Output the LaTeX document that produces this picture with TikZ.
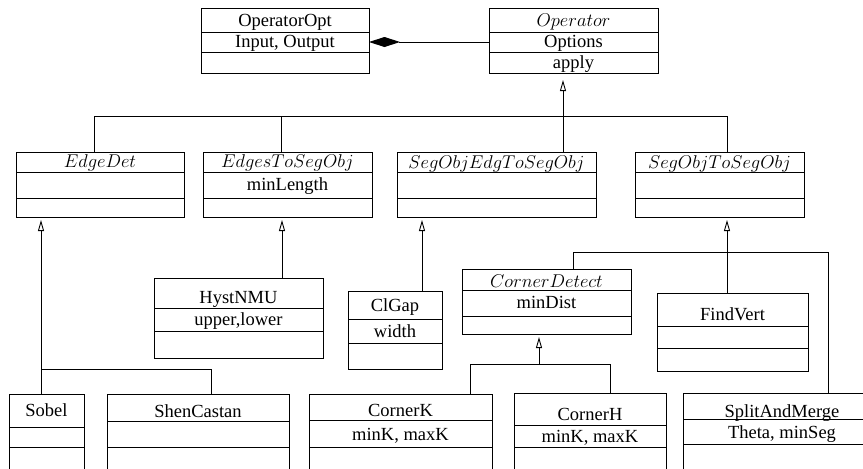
\RequirePackage{fix-cm}
\documentclass[tikz,border=0pt]{standalone}
\usepackage{fontspec}
\setmainfont{Liberation Serif}
\usetikzlibrary{arrows.meta}
\tikzset{every picture/.style={line width=0.9pt}}

\begin{document}
\begin{tikzpicture}[x=1pt,y=-1pt,
  font=\fontsize{18.5}{20}\selectfont,
  cls/.style={draw, rectangle, anchor=north west, inner sep=0pt, outer sep=0pt},
  txt/.style={anchor=base, inner sep=0pt},
  gen/.style={-{Triangle[open,length=11pt,width=6pt]}, shorten >=3pt},
  owns/.style={-{Diamond[length=31pt,width=10pt]}}]
\useasboundingbox (0,0) rectangle (863,469);
\clip (0,0) rectangle (863,469);
% class boxes
\node[cls, minimum width=168pt, minimum height=65pt] (operatoropt) at (201,8) {};
\node[cls, minimum width=169pt, minimum height=65pt] (operator) at (489,8) {};
\node[cls, minimum width=168pt, minimum height=65pt] (edgedet) at (16,152) {};
\node[cls, minimum width=169pt, minimum height=65pt] (edgesseg) at (203,152) {};
\node[cls, minimum width=199pt, minimum height=65pt] (segedgseg) at (397,152) {};
\node[cls, minimum width=169pt, minimum height=65pt] (segsegobj) at (635,152) {};
\node[cls, minimum width=169pt, minimum height=80pt] (hystnmu) at (154,278) {};
\node[cls, minimum width=94pt, minimum height=78pt] (clgap) at (348,291) {};
\node[cls, minimum width=169pt, minimum height=65pt] (cornerdet) at (462,269) {};
\node[cls, minimum width=151pt, minimum height=78pt] (findvert) at (657,293) {};
\node[cls, minimum width=75pt, minimum height=110pt] (sobel) at (9,394) {};
\node[cls, minimum width=182pt, minimum height=110pt] (shencastan) at (107,394) {};
\node[cls, minimum width=183pt, minimum height=110pt] (cornerk) at (309,394) {};
\node[cls, minimum width=152pt, minimum height=110pt] (cornerh) at (514,393) {};
\node[cls, minimum width=198pt, minimum height=110pt] (splitmerge) at (683,393) {};
% compartments
\foreach \n/\a/\b in {operatoropt/32/52, operator/32/52, edgedet/172/198,
    edgesseg/172/198, segedgseg/172/198, segsegobj/172/198, hystnmu/308/331,
    clgap/319/343, cornerdet/290/316, findvert/326/348, sobel/427/447,
    shencastan/421/447, cornerk/420/447, cornerh/425/447, splitmerge/419/444}
  \draw (\n.west |- 0,\a) -- (\n.east |- 0,\a) (\n.west |- 0,\b) -- (\n.east |- 0,\b);
% names and attributes
\node[txt] (operatoropt-t) at (operatoropt.north |- 0,26) {OperatorOpt};
\node[txt] (operatoropt-a) at (operatoropt.north |- 0,47) {Input, Output};
\node[txt] (operator-t) at (operator.north |- 0,26) {$Operator$};
\node[txt] (operator-a) at (operator.north |- 0,47) {Options};
\node[txt] (operator-o) at (operator.north |- 0,68) {apply};
\node[txt] (edgedet-t) at (edgedet.north |- 0,167) {$EdgeDet$};
\node[txt] (edgesseg-t) at (edgesseg.north |- 0,167) {$EdgesToSegObj$};
\node[txt] (edgesseg-a) at (edgesseg.north |- 0,190) {minLength};
\node[txt] (segedgseg-t) at (segedgseg.north |- 0,168) {$SegObjEdgToSegObj$};
\node[txt] (segsegobj-t) at (segsegobj.north |- 0,168) {$SegObjToSegObj$};
\node[txt] (hystnmu-t) at (hystnmu.north |- 0,303) {HystNMU};
\node[txt] (hystnmu-a) at (hystnmu.north |- 0,325) {upper,lower};
\node[txt] (clgap-t) at (clgap.north |- 0,311) {ClGap};
\node[txt] (clgap-a) at (clgap.north |- 0,337) {width};
\node[txt] (cornerdet-t) at (cornerdet.north |- 0,287) {$CornerDetect$};
\node[txt] (cornerdet-a) at (cornerdet.north |- 0,308) {minDist};
\node[txt] (findvert-t) at (findvert.north |- 0,320) {FindVert};
\node[txt] (sobel-t) at (sobel.north |- 0,416) {Sobel};
\node[txt] (shencastan-t) at (shencastan.north |- 0,417) {ShenCastan};
\node[txt] (cornerk-t) at (cornerk.north |- 0,416) {CornerK};
\node[txt] (cornerk-a) at (cornerk.north |- 0,440) {minK, maxK};
\node[txt] (cornerh-t) at (cornerh.north |- 0,420) {CornerH};
\node[txt] (cornerh-a) at (cornerh.north |- 0,442) {minK, maxK};
\node[txt] (splitmerge-t) at (splitmerge.north |- 0,417) {SplitAndMerge};
\node[txt] (splitmerge-a) at (splitmerge.north |- 0,438) {Theta, minSeg};
% composition
\coordinate (ownY) at (0,42);
\draw[owns] (operator.west |- ownY) -- (operatoropt.east |- ownY);
% inheritance
\coordinate (busA) at (94,116);
\coordinate (busB) at (281,116);
\coordinate (busC) at (563,116);
\coordinate (busD) at (727,116);
\draw (edgedet.north -| busA) -- (busA) -- (busD) -- (segsegobj.north -| busD);
\draw (edgesseg.north -| busB) -- (busB);
\draw[gen, shorten >=7pt] (segedgseg.north -| busC) -- (operator.south -| busC);
%
\coordinate (edA) at (41,369);
\coordinate (edB) at (211,369);
\draw[gen] (sobel.north -| edA) -- (edgedet.south -| edA);
\draw (edA) -- (edB) -- (shencastan.north -| edB);
%
\coordinate (hyX) at (282,250);
\draw[gen] (hystnmu.north -| hyX) -- (edgesseg.south -| hyX);
\coordinate (clX) at (422,250);
\draw[gen] (clgap.north -| clX) -- (segedgseg.south -| clX);
%
\coordinate (fvA) at (573,252);
\coordinate (fvB) at (727,252);
\coordinate (fvC) at (828,252);
\draw[gen] (findvert.north -| fvB) -- (segsegobj.south -| fvB);
\draw (cornerdet.north -| fvA) -- (fvA) -- (fvC) -- (splitmerge.north -| fvC);
%
\coordinate (cdA) at (470,364);
\coordinate (cdB) at (539,364);
\coordinate (cdC) at (610,364);
\draw[gen] (cdB) -- (cornerdet.south -| cdB);
\draw (cornerk.north -| cdA) -- (cdA) -- (cdC) -- (cornerh.north -| cdC);
\end{tikzpicture}
\end{document}
